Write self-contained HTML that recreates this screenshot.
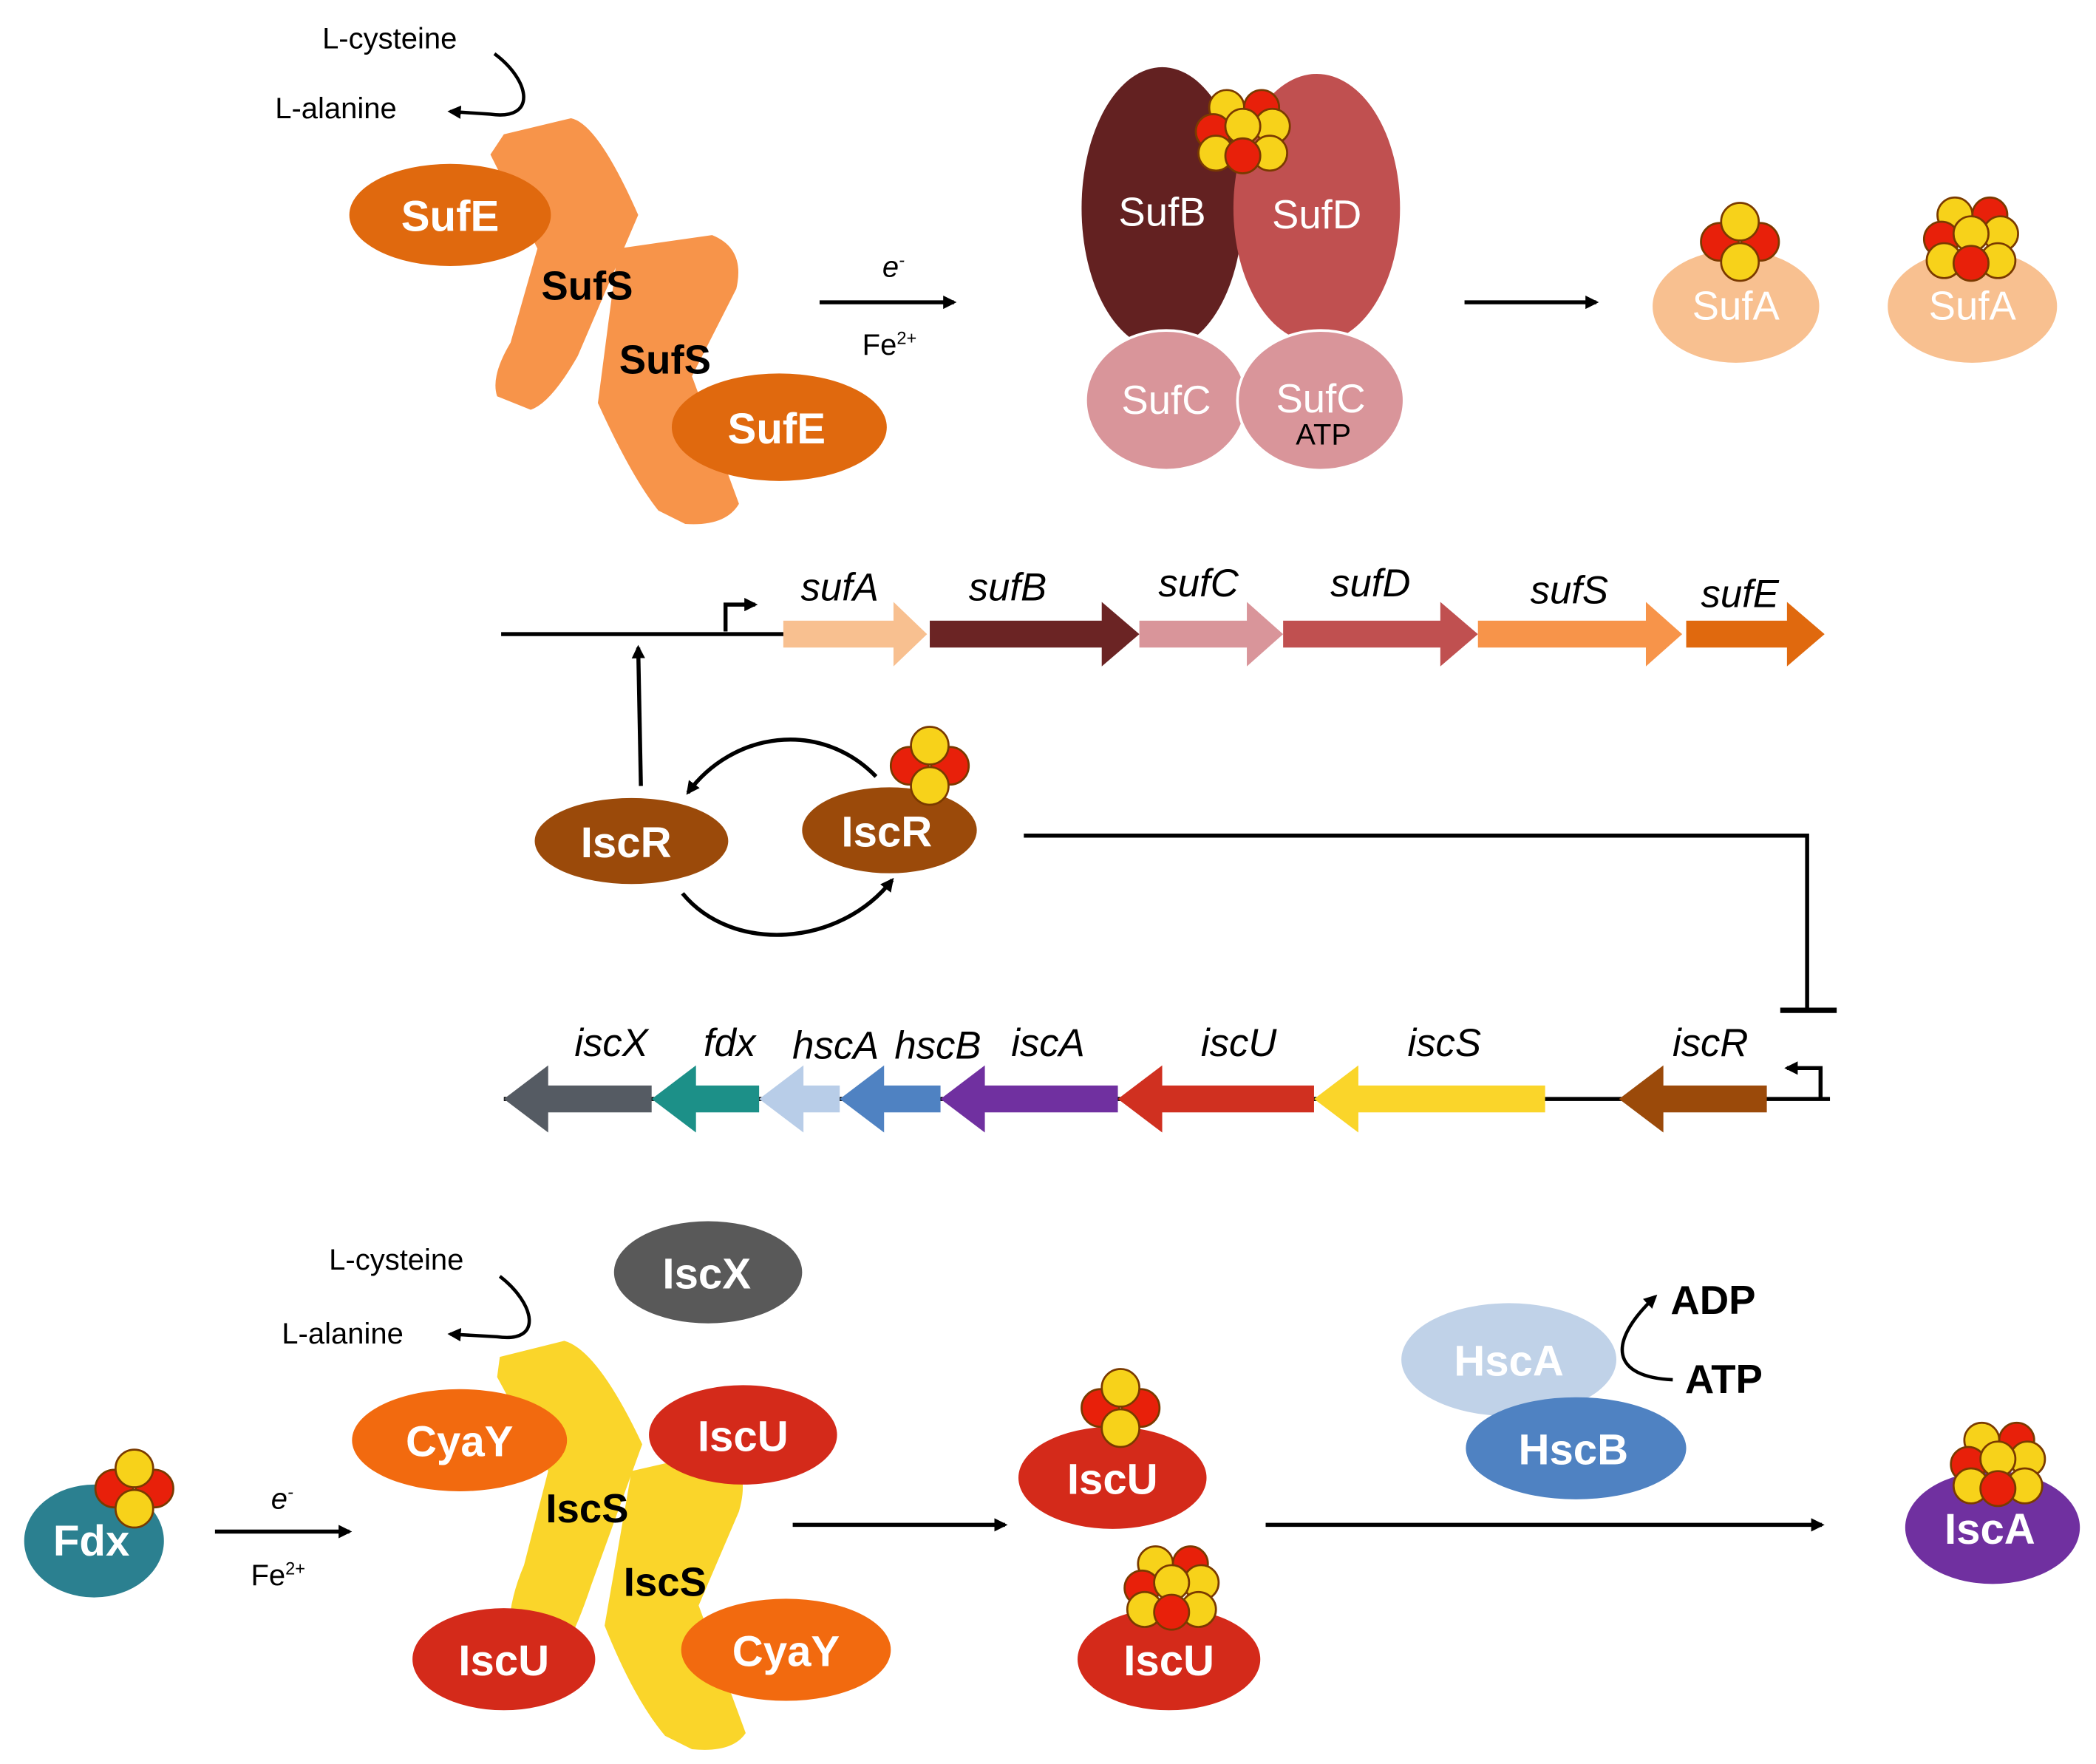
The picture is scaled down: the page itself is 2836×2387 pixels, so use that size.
<!DOCTYPE html>
<html><head><meta charset="utf-8"><style>
html,body{margin:0;padding:0;background:#fff}
svg{display:block}
text{font-family:"Liberation Sans",sans-serif}
.w{fill:#fff;font-weight:bold;font-size:32px;text-anchor:middle}
.wl{fill:#fff;font-size:30px;text-anchor:middle}
.b{fill:#000;font-weight:bold;font-size:30px;text-anchor:middle}
.s{fill:#000;font-size:22px;text-anchor:middle}
.g{fill:#000;font-style:italic;font-size:29px;text-anchor:middle}
</style></head><body>
<svg width="2836" height="2387" viewBox="0 0 1560 1313" preserveAspectRatio="none" xmlns="http://www.w3.org/2000/svg">
<defs>
<marker id="ah" markerWidth="10" markerHeight="10" refX="8" refY="5" orient="auto" markerUnits="userSpaceOnUse"><path d="M0,0 L10,5 L0,10 Z" fill="#000"/></marker>
<g id="c4" stroke="#7a3a00" stroke-width="1.5">
<circle cx="-15" cy="0" r="14" fill="#e8200a"/><circle cx="15" cy="0" r="14" fill="#e8200a"/>
<circle cx="0" cy="-15" r="14" fill="#f7d21a"/><circle cx="0" cy="15" r="14" fill="#f7d21a"/></g>
<g id="c8" stroke="#7a3a00" stroke-width="1.5">
<circle cx="-12" cy="-18" r="13" fill="#f7d21a"/><circle cx="14" cy="-18" r="13" fill="#e8200a"/>
<circle cx="-22" cy="0" r="13" fill="#e8200a"/><circle cx="22" cy="-4" r="13" fill="#f7d21a"/>
<circle cx="-20" cy="16" r="13" fill="#f7d21a"/><circle cx="20" cy="16" r="13" fill="#f7d21a"/>
<circle cx="0" cy="-4" r="13" fill="#f7d21a"/><circle cx="0" cy="18" r="13" fill="#e8200a"/></g>
</defs>

<!-- TOP: SUF -->
<text x="290" y="36" class="s">L-cysteine</text>
<text x="250" y="88" class="s">L-alanine</text>
<path d="M368,40 C395,60 400,90 365,85 L335,83" fill="none" stroke="#000" stroke-width="2.5" marker-end="url(#ah)"/>
<path d="M375,100 L425,88 Q445,92 475,160 L430,265 Q410,300 395,305 L370,295 Q365,280 380,255 L400,185 L365,115 Z" fill="#F7944A"/>
<path d="M460,185 L530,175 Q555,185 548,215 L515,280 L550,375 Q540,392 510,390 L490,380 Q470,355 445,300 Z" fill="#F7944A"/>
<ellipse cx="335" cy="160" rx="75" ry="38" fill="#E0690E"/><text x="335" y="172" class="w">SufE</text>
<text x="437" y="223" class="b">SufS</text>
<text x="495" y="278" class="b">SufS</text>
<ellipse cx="580" cy="318" rx="80" ry="40" fill="#E0690E"/><text x="578" y="330" class="w">SufE</text>
<line x1="610" y1="225" x2="710" y2="225" stroke="#000" stroke-width="3" marker-end="url(#ah)"/>
<text x="665" y="206" class="s" font-style="italic">e<tspan font-size="13" dy="-8">-</tspan></text>
<text x="662" y="264" class="s">Fe<tspan font-size="13" dy="-8">2+</tspan></text>

<ellipse cx="865" cy="155" rx="60" ry="105" fill="#632121"/>
<ellipse cx="980" cy="155" rx="62" ry="100" fill="#C05050"/>
<ellipse cx="868" cy="298" rx="60" ry="52" fill="#D9959A" stroke="#fff" stroke-width="2"/>
<ellipse cx="983" cy="298" rx="62" ry="52" fill="#D9959A" stroke="#fff" stroke-width="2"/>
<text x="865" y="168" class="wl">SufB</text><text x="980" y="170" class="wl">SufD</text>
<text x="868" y="308" class="wl">SufC</text><text x="983" y="307" class="wl">SufC</text>
<text x="985" y="331" class="s" font-size="26">ATP</text>
<use href="#c8" x="925" y="98"/>
<line x1="1090" y1="225" x2="1188" y2="225" stroke="#000" stroke-width="3" marker-end="url(#ah)"/>
<ellipse cx="1292" cy="228" rx="62" ry="42" fill="#F8C090"/><text x="1292" y="238" class="wl">SufA</text>
<use href="#c4" x="1295" y="180"/>
<ellipse cx="1468" cy="228" rx="63" ry="42" fill="#F8C090"/><text x="1468" y="238" class="wl">SufA</text>
<use href="#c8" x="1467" y="178"/>

<!-- suf operon -->
<line x1="373" y1="472" x2="585" y2="472" stroke="#000" stroke-width="3"/>
<path d="M540,470 L540,450 L562,450" fill="none" stroke="#000" stroke-width="3" marker-end="url(#ah)"/>
<g>
<path d="M583,462 L665,462 L665,448 L690,472 L665,496 L665,482 L583,482 Z" fill="#F8C090"/>
<path d="M692,462 L820,462 L820,448 L848,472 L820,496 L820,482 L692,482 Z" fill="#6B2424"/>
<path d="M848,462 L928,462 L928,448 L955,472 L928,496 L928,482 L848,482 Z" fill="#D9959A"/>
<path d="M955,462 L1072,462 L1072,448 L1100,472 L1072,496 L1072,482 L955,482 Z" fill="#C05050"/>
<path d="M1100,462 L1225,462 L1225,448 L1252,472 L1225,496 L1225,482 L1100,482 Z" fill="#F7944A"/>
<path d="M1255,462 L1330,462 L1330,448 L1358,472 L1330,496 L1330,482 L1255,482 Z" fill="#E0690E"/>
</g>
<text x="625" y="447" class="g">sufA</text><text x="750" y="447" class="g">sufB</text>
<text x="892" y="444" class="g">sufC</text><text x="1020" y="444" class="g">sufD</text>
<text x="1168" y="449" class="g">sufS</text><text x="1295" y="452" class="g">sufE</text>

<!-- IscR -->
<line x1="477" y1="585" x2="475" y2="482" stroke="#000" stroke-width="3" marker-end="url(#ah)"/>
<ellipse cx="470" cy="626" rx="72" ry="32" fill="#9B4A0A"/><text x="466" y="638" class="w">IscR</text>
<ellipse cx="662" cy="618" rx="65" ry="32" fill="#9B4A0A"/><text x="660" y="630" class="w">IscR</text>
<use href="#c4" x="692" y="570"/>
<path d="M652,578 C610,535 545,545 512,590" fill="none" stroke="#000" stroke-width="3" marker-end="url(#ah)"/>
<path d="M508,665 C545,710 625,705 664,655" fill="none" stroke="#000" stroke-width="3" marker-end="url(#ah)"/>
<path d="M762,622 L1345,622 L1345,752" fill="none" stroke="#000" stroke-width="3"/>
<line x1="1325" y1="752" x2="1367" y2="752" stroke="#000" stroke-width="4"/>

<!-- isc operon -->
<line x1="375" y1="818" x2="1362" y2="818" stroke="#000" stroke-width="3"/>
<path d="M1355,818 L1355,795 L1330,795" fill="none" stroke="#000" stroke-width="3" marker-end="url(#ah)"/>
<g>
<path d="M485,808 L408,808 L408,793 L375,818 L408,843 L408,828 L485,828 Z" fill="#555B63"/>
<path d="M565,808 L518,808 L518,793 L485,818 L518,843 L518,828 L565,828 Z" fill="#1C9088"/>
<path d="M625,808 L598,808 L598,793 L565,818 L598,843 L598,828 L625,828 Z" fill="#B8CDE8"/>
<path d="M700,808 L658,808 L658,793 L625,818 L658,843 L658,828 L700,828 Z" fill="#4F82C2"/>
<path d="M832,808 L733,808 L733,793 L700,818 L733,843 L733,828 L832,828 Z" fill="#7030A0"/>
<path d="M978,808 L865,808 L865,793 L832,818 L865,843 L865,828 L978,828 Z" fill="#D03020"/>
<path d="M1150,808 L1011,808 L1011,793 L978,818 L1011,843 L1011,828 L1150,828 Z" fill="#FAD52A"/>
<path d="M1315,808 L1238,808 L1238,793 L1205,818 L1238,843 L1238,828 L1315,828 Z" fill="#9B4A0A"/>
</g>
<text x="455" y="786" class="g">iscX</text><text x="543" y="786" class="g">fdx</text>
<text x="622" y="788" class="g">hscA</text><text x="698" y="788" class="g">hscB</text>
<text x="780" y="786" class="g">iscA</text><text x="922" y="786" class="g">iscU</text>
<text x="1075" y="786" class="g">iscS</text><text x="1273" y="786" class="g">iscR</text>

<!-- BOTTOM: ISC -->
<text x="295" y="945" class="s">L-cysteine</text>
<text x="255" y="1000" class="s">L-alanine</text>
<path d="M372,950 C398,970 405,1000 370,995 L335,993" fill="none" stroke="#000" stroke-width="2.5" marker-end="url(#ah)"/>
<ellipse cx="527" cy="947" rx="70" ry="38" fill="#595959"/><text x="526" y="959" class="w">IscX</text>
<path d="M372,1010 L420,998 Q445,1005 478,1075 L440,1180 Q420,1240 405,1240 L380,1230 Q375,1200 390,1165 L408,1095 L370,1025 Z" fill="#FAD52A"/>
<path d="M470,1095 L535,1080 Q560,1090 550,1125 L520,1195 L555,1290 Q545,1305 515,1302 L495,1292 Q472,1265 450,1210 Z" fill="#FAD52A"/>
<ellipse cx="342" cy="1072" rx="80" ry="38" fill="#F26A0F"/><text x="342" y="1084" class="w">CyaY</text>
<ellipse cx="553" cy="1068" rx="70" ry="37" fill="#D42A1A"/><text x="553" y="1080" class="w">IscU</text>
<text x="437" y="1133" class="b">IscS</text>
<text x="495" y="1188" class="b">IscS</text>
<ellipse cx="375" cy="1235" rx="68" ry="38" fill="#D42A1A"/><text x="375" y="1247" class="w">IscU</text>
<ellipse cx="585" cy="1228" rx="78" ry="38" fill="#F26A0F"/><text x="585" y="1240" class="w">CyaY</text>

<ellipse cx="70" cy="1147" rx="52" ry="42" fill="#2B8090"/><text x="68" y="1158" class="w">Fdx</text>
<use href="#c4" x="100" y="1108"/>
<line x1="160" y1="1140" x2="260" y2="1140" stroke="#000" stroke-width="3" marker-end="url(#ah)"/>
<text x="210" y="1123" class="s" font-style="italic">e<tspan font-size="13" dy="-8">-</tspan></text>
<text x="207" y="1180" class="s">Fe<tspan font-size="13" dy="-8">2+</tspan></text>
<line x1="590" y1="1135" x2="748" y2="1135" stroke="#000" stroke-width="3" marker-end="url(#ah)"/>

<ellipse cx="828" cy="1100" rx="70" ry="38" fill="#D42A1A"/><text x="828" y="1112" class="w">IscU</text>
<use href="#c4" x="834" y="1048"/>
<ellipse cx="870" cy="1235" rx="68" ry="38" fill="#D42A1A"/><text x="870" y="1247" class="w">IscU</text>
<use href="#c8" x="872" y="1182"/>
<line x1="942" y1="1135" x2="1356" y2="1135" stroke="#000" stroke-width="3" marker-end="url(#ah)"/>

<ellipse cx="1123" cy="1012" rx="80" ry="42" fill="#C0D2E8"/><text x="1123" y="1024" class="w">HscA</text>
<ellipse cx="1173" cy="1078" rx="82" ry="38" fill="#4F82C2"/><text x="1171" y="1090" class="w">HscB</text>
<text x="1275" y="978" class="b" font-size="24">ADP</text>
<text x="1283" y="1037" class="b" font-size="24">ATP</text>
<path d="M1245,1027 C1200,1025 1195,1000 1232,965" fill="none" stroke="#000" stroke-width="2.5" marker-end="url(#ah)"/>
<ellipse cx="1483" cy="1137" rx="65" ry="42" fill="#7030A0"/><text x="1481" y="1149" class="w">IscA</text>
<use href="#c8" x="1487" y="1090"/>
</svg>
</body></html>
